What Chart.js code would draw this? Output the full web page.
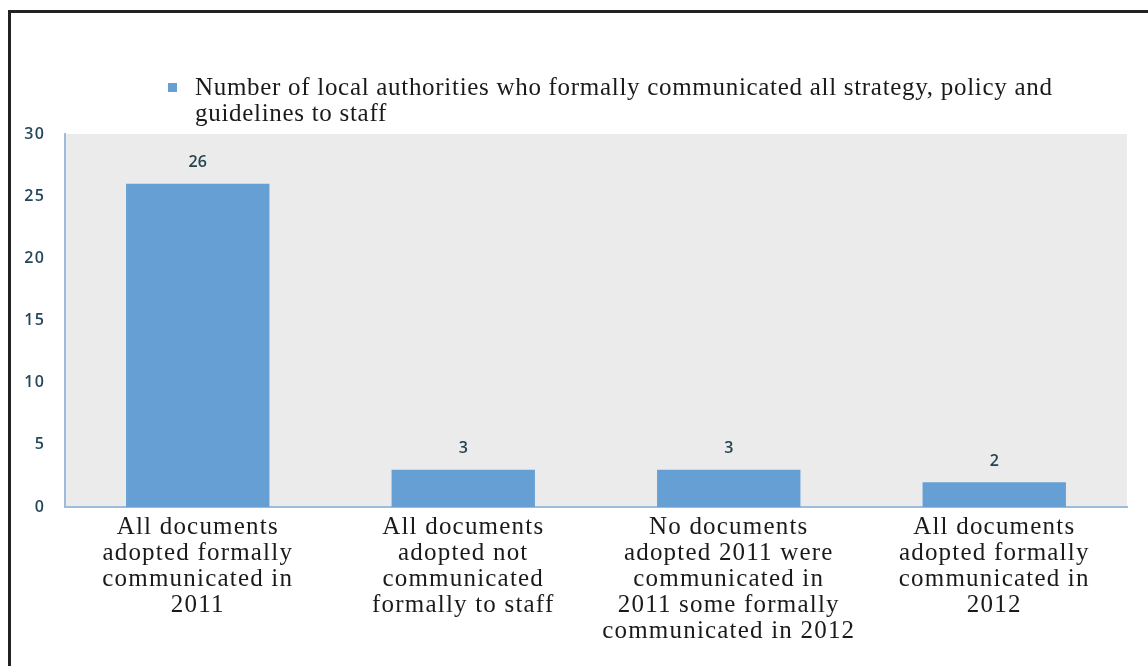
<!DOCTYPE html>
<html>
<head>
<meta charset="utf-8">
<script src="https://cdn.jsdelivr.net/npm/chart.js@4.4.1/dist/chart.umd.min.js"></script>
<style>
  html, body { margin: 0; padding: 0; background: #fff; overflow: hidden; }
  #wrap { position: relative; width: 1148px; height: 666px; }
  #frame {
    position: absolute; left: 8px; top: 10px; width: 1200px; height: 700px;
    border: 3px solid #222; box-sizing: border-box; pointer-events: none;
  }
  canvas { position: absolute; left: 0; top: 0; }
</style>
</head>
<body>
<div id="wrap">
  <canvas id="comm" width="1148" height="666"></canvas>
  <div id="frame"></div>
</div>
<script>
const categories = [
  ['All documents', 'adopted formally', 'communicated in', '2011'],
  ['All documents', 'adopted not', 'communicated', 'formally to staff'],
  ['No documents', 'adopted 2011 were', 'communicated in', '2011 some formally', 'communicated in 2012'],
  ['All documents', 'adopted formally', 'communicated in', '2012']
];
const counts = [26, 3, 3, 2];
const yTicks = [0, 5, 10, 15, 20, 25, 30];
const seriesName = 'Number of local authorities who formally communicated all strategy, policy and guidelines to staff';
const legendLines = [
  'Number of local authorities who formally communicated all strategy, policy and',
  'guidelines to staff'
];

const barBlue = '#669fd3';
const serif = '"Liberation Serif", "Times New Roman", serif';

// grey plot panel behind the bars; also widens the serif lettering a touch
const panelBg = {
  id: 'panelBg',
  beforeDraw(chart) {
    const { ctx, chartArea: a } = chart;
    ctx.save();
    ctx.fillStyle = '#ebebeb';
    ctx.fillRect(a.left, a.top, a.right - a.left, a.bottom - a.top);
    ctx.restore();
    ctx.letterSpacing = '1.2px';
  }
};

// value printed above each bar
const barValues = {
  id: 'barValues',
  afterDatasetsDraw(chart) {
    const { ctx } = chart;
    const meta = chart.getDatasetMeta(0);
    ctx.save();
    ctx.letterSpacing = '0px';
    ctx.font = '600 16px "Open Sans", sans-serif';
    ctx.fillStyle = '#24424f';
    ctx.textAlign = 'center';
    ctx.textBaseline = 'middle';
    meta.data.forEach((bar, i) => {
      ctx.fillText(String(counts[i]), bar.x, bar.y - 21);
    });
    ctx.restore();
  }
};

// two-line legend above the plot
const wrapLegend = {
  id: 'wrapLegend',
  afterDraw(chart) {
    const { ctx } = chart;
    ctx.save();
    ctx.fillStyle = barBlue;
    ctx.fillRect(168, 83, 9, 9);
    ctx.fillStyle = '#1a1a1a';
    ctx.font = '25px ' + serif;
    ctx.letterSpacing = '0.7px';
    ctx.textAlign = 'left';
    ctx.textBaseline = 'middle';
    legendLines.forEach((line, i) => ctx.fillText(line, 195, 88 + i * 26));
    ctx.restore();
    ctx.letterSpacing = '0px';
  }
};

new Chart(document.getElementById('comm'), {
  type: 'bar',
  data: {
    labels: categories,
    datasets: [{
      label: seriesName,
      data: counts,
      backgroundColor: barBlue,
      borderWidth: 0,
      barPercentage: 0.54,
      categoryPercentage: 1
    }]
  },
  options: {
    responsive: false,
    animation: false,
    layout: { padding: { left: 0, right: 21, top: 134, bottom: 0 } },
    plugins: {
      legend: { display: false },
      tooltip: { enabled: false }
    },
    scales: {
      x: {
        offset: true,
        grid: { display: false, drawTicks: false },
        border: { color: '#9dbcdc', width: 2 },
        ticks: {
          color: '#1a1a1a',
          font: { family: serif, size: 25, lineHeight: '26px' },
          maxRotation: 0,
          autoSkip: false,
          padding: 7
        },
        afterFit(scale) { scale.height = 159; }
      },
      y: {
        min: 0,
        max: 30,
        afterBuildTicks(scale) { scale.ticks = yTicks.map(v => ({ value: v })); },
        grid: { display: false, drawTicks: false },
        border: { color: '#9dbcdc', width: 2 },
        ticks: {
          color: '#24485a',
          font: { family: '"Open Sans", sans-serif', size: 16, weight: '600' },
          padding: 20
        },
        afterFit(scale) { scale.width = 65; }
      }
    }
  },
  plugins: [panelBg, barValues, wrapLegend]
});
</script>
</body>
</html>
